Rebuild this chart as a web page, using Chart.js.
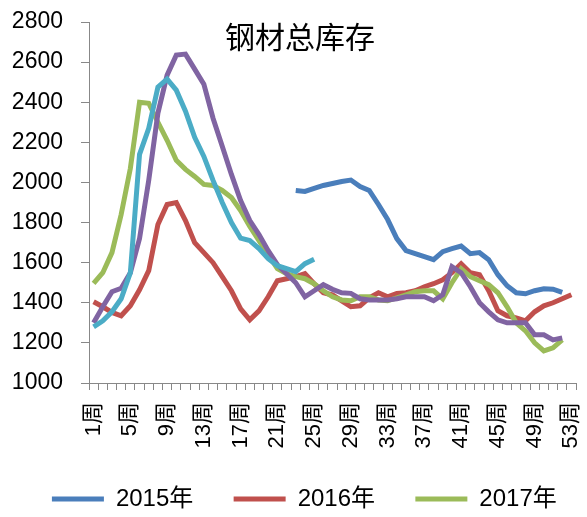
<!DOCTYPE html>
<html>
<head>
<meta charset="utf-8">
<script src="https://cdn.jsdelivr.net/npm/chart.js@4"></script>
<style>
  html, body { margin: 0; padding: 0; background: #fff; }
  #wrap { width: 587px; height: 517px; }
</style>
</head>
<body>
<div id="wrap"><canvas id="stockChart" width="587" height="517"></canvas></div>
<script>
var weeks = ["1周","2周","3周","4周","5周","6周","7周","8周","9周","10周",
  "11周","12周","13周","14周","15周","16周","17周","18周","19周","20周",
  "21周","22周","23周","24周","25周","26周","27周","28周","29周","30周",
  "31周","32周","33周","34周","35周","36周","37周","38周","39周","40周",
  "41周","42周","43周","44周","45周","46周","47周","48周","49周","50周",
  "51周","52周","53周"];

var s2015 = [null, null, null, null, null, null, null, null, null, null,
  null, null, null, null, null, null, null, null, null, null,
  null, null, 1960, 1955, 1970, 1985, 1995, 2005, 2012, 1980,
  1960, 1890, 1815, 1720, 1660, 1645, 1630, 1615, 1655, 1670,
  1683, 1645, 1650, 1615, 1540, 1485, 1450, 1445, 1460, 1470,
  1468, 1452, null];

var s2016 = [1405, 1380, 1352, 1335, 1385, 1465, 1560, 1790, 1890, 1900,
  1810, 1700, 1650, 1600, 1530, 1460, 1370, 1315, 1360, 1430,
  1510, 1520, 1530, 1545, 1495, 1450, 1439, 1410, 1380, 1385,
  1425, 1450, 1430, 1447, 1450, 1460, 1480, 1495, 1515, 1550,
  1595, 1550, 1540, 1460, 1360, 1335, 1325, 1310, 1355, 1385,
  1400, 1420, 1440];

var s2017 = [1497, 1550, 1650, 1840, 2070, 2400, 2395, 2300, 2210, 2110,
  2065, 2030, 1990, 1985, 1960, 1925, 1860, 1780, 1710, 1640,
  1570, 1545, 1530, 1520, 1495, 1460, 1430, 1414, 1410, 1430,
  1430, 1414, 1410, 1425, 1440, 1455, 1460, 1460, 1420, 1500,
  1570, 1530, 1510, 1490, 1450, 1380, 1300, 1260, 1200, 1160,
  1175, 1215, null];

var s2018 = [1300, 1380, 1455, 1472, 1550, 1720, 2010, 2346, 2535, 2635,
  2640, 2565, 2490, 2320, 2180, 2040, 1910, 1810, 1740, 1660,
  1590, 1545, 1500, 1430, 1460, 1490, 1467, 1450, 1447, 1420,
  1414, 1414, 1414, 1420, 1430, 1430, 1430, 1410, 1440, 1580,
  1550, 1480, 1400, 1355, 1315, 1300, 1300, 1300, 1240, 1240,
  1215, 1225, null];

var s2019 = [1280, 1310, 1355, 1420, 1550, 2140, 2270, 2475, 2515, 2460,
  2355, 2225, 2130, 2010, 1900, 1800, 1722, 1710, 1670, 1620,
  1585, 1570, 1555, 1595, 1617];

var yTicks = [1000, 1200, 1400, 1600, 1800, 2000, 2200, 2400, 2600, 2800];

var latin = "'Liberation Sans', 'Noto Sans CJK SC', sans-serif";

// title sits inside the plot area, so draw it by hand
var titlePlugin = {
  id: 'innerTitle',
  afterLayout: function(chart) {
    // legend in the source is centred a little right of the canvas middle
    chart.legend.left += 23;
    chart.legend.right += 23;
  },
  afterDraw: function(chart) {
    var ctx = chart.ctx;
    ctx.save();
    ctx.fillStyle = '#000';
    ctx.font = "30px 'Noto Sans CJK SC', sans-serif";
    ctx.textAlign = 'center';
    ctx.textBaseline = 'middle';
    ctx.fillText('钢材总库存', 300, 37);
    ctx.restore();
  }
};

function line(label, data, color, order) {
  return {
    label: label,
    data: data,
    borderColor: color,
    backgroundColor: color,
    borderWidth: 5,
    pointRadius: 0,
    pointHoverRadius: 0,
    pointStyle: 'line',
    tension: 0,
    order: order,
    spanGaps: false
  };
}

var ctx = document.getElementById("stockChart").getContext('2d');
var myChart = new Chart(ctx, {
  type: 'line',
  data: {
    labels: weeks,
    datasets: [
      line("2015年", s2015, '#4A7EBB', 4),
      line("2016年", s2016, '#C0504D', 3),
      line("2017年", s2017, '#9BBB59', 2),
      line("2018年", s2018, '#8064A2', 1),
      line("2019年", s2019, '#4BACC6', 0)
    ]
  },
  options: {
    responsive: false,
    animation: false,
    layout: { padding: { top: 22, right: 11, left: 0, bottom: -4 } },
    plugins: {
      title: { display: false },
      tooltip: { enabled: false },
      legend: {
        position: 'bottom',
        labels: {
          usePointStyle: true,
          pointStyleWidth: 52,
          boxHeight: 24,
          padding: 27,
          color: '#000',
          font: { family: latin, size: 24 },
          generateLabels: function(chart) {
            var items = Chart.defaults.plugins.legend.labels.generateLabels(chart);
            items.forEach(function(it) { it.text = it.text + '\u00a0\u00a0'; });
            return items;
          },
          filter: function(item) { return item.datasetIndex < 3; },
          sort: function(a, b) { return a.datasetIndex - b.datasetIndex; }
        }
      }
    },
    scales: {
      x: {
        offset: true,
        afterFit: function(scale) {
          scale.height = 517 - 383 - scale.chart.legend.height + 4;
          scale.paddingLeft = 0;
          scale.paddingRight = 0;
        },
        border: { color: '#888', width: 1 },
        grid: {
          offset: true,
          drawOnChartArea: false,
          drawTicks: true,
          tickLength: 7,
          color: '#888'
        },
        ticks: {
          autoSkip: false,
          maxRotation: 90,
          minRotation: 90,
          padding: 12,
          color: '#000',
          font: { family: latin, size: 22 },
          callback: function(val, i) {
            return i % 4 === 0 ? weeks[i] : '';
          }
        }
      },
      y: {
        min: yTicks[0],
        max: yTicks[yTicks.length - 1],
        afterFit: function(scale) {
          scale.width = 89;
          scale.paddingTop = 0;
          scale.paddingBottom = 0;
        },
        afterBuildTicks: function(scale) {
          scale.ticks = yTicks.map(function(v) { return { value: v }; });
        },
        border: { color: '#888', width: 1 },
        grid: {
          drawOnChartArea: false,
          drawTicks: true,
          tickLength: 8,
          color: '#888'
        },
        ticks: {
          padding: 18,
          color: '#000',
          font: { family: latin, size: 23 },
          callback: function(v) { return String(v); }
        }
      }
    }
  },
  plugins: [titlePlugin]
});
</script>
</body>
</html>
